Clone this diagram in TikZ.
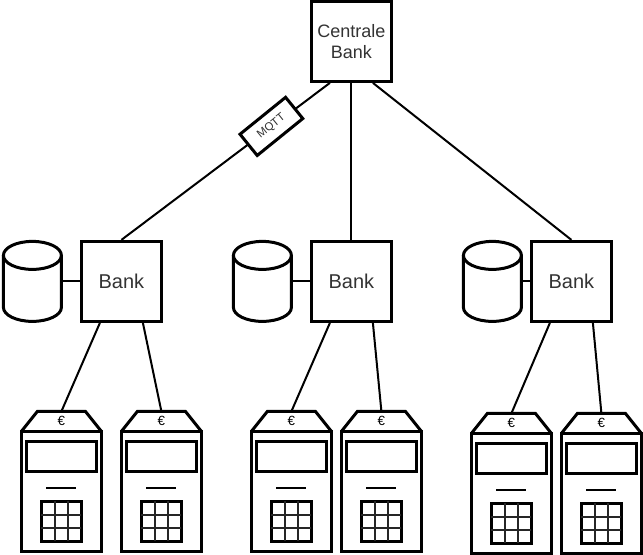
\documentclass[tikz,border=0pt]{standalone}
\usepackage{fontspec}
\setmainfont{Liberation Sans}
\usetikzlibrary{shapes,positioning}
\tikzset{
  bankbox/.style={rectangle,draw,line width=2.25pt,minimum width=60pt,minimum height=60pt,inner sep=0pt,align=center,font=\fontsize{15}{17}\selectfont,text=black!80},
  topbox/.style={bankbox,font=\fontsize{13.5}{16}\selectfont},
  dbase/.style={rectangle,minimum width=43.5pt,minimum height=60pt,inner sep=0pt,outer sep=0pt},
  thickline/.style={line width=2.25pt},
  link/.style={line width=1.5pt},
  roof/.style={rectangle,minimum width=36pt,minimum height=15pt,inner sep=0pt,outer sep=0pt,font=\fontsize{10}{11}\selectfont},
  tbody/.style={rectangle,draw,line width=2.25pt,minimum width=60pt,minimum height=90pt,inner sep=0pt},
  screen/.style={rectangle,draw,line width=2.25pt,minimum width=52.5pt,minimum height=22pt,inner sep=0pt},
  keypad/.style={rectangle,draw,line width=2.25pt,minimum width=30pt,minimum height=30pt,inner sep=0pt,outer sep=0pt},
  tag/.style={rectangle,draw,fill=white,line width=2.25pt,minimum width=44pt,minimum height=20.5pt,inner sep=0pt,rotate=39,font=\fontsize{8.5}{9}\selectfont,text=black!80}
}
% one database: name, x of the middle
\newcommand{\database}[2]{
  \node[dbase] (#1) at (#2,281) {};
  \draw[thickline] (#2,255) ellipse (29 and 14);
  \draw[thickline] (#2-29,255) -- (#2-29,307) arc (180:0:29 and 14) -- (#2+29,255);
}
% one terminal: name, x of the middle, y of the top
\newcommand{\terminal}[3]{
  \node[roof] (#1) at (#2,#3+10) {€};
  \draw[thickline] (#2-40,#3+20) -- (#2-24,#3) -- (#2+24,#3) -- (#2+40,#3+20);
  \node[tbody] (#1b) at (#2,#3+80) {};
  \node[screen] (#1s) at (#2+0.5,#3+45) {};
  \draw[link] (#2-15,#3+77) -- (#2+15,#3+77);
  \node[keypad] (#1k) at (#2,#3+110) {};
  \draw[line width=1.4pt,black!85] (#1k.north west)++(13.3,0) -- ++(0,40) (#1k.north west)++(26.6,0) -- ++(0,40)
    (#1k.north west)++(0,13.3) -- ++(40,0) (#1k.north west)++(0,26.6) -- ++(40,0);
}

\begin{document}
\begin{tikzpicture}[x=0.75pt,y=-0.75pt]
  \useasboundingbox (-0.4,-0.4) rectangle (642.6,554.6);

  \node[topbox] (cb) at (351,41) {Centrale\\Bank};
  \node[bankbox] (b1) at (121,281) {Bank};
  \node[bankbox] (b2) at (351,281) {Bank};
  \node[bankbox] (b3) at (571,281) {Bank};

  \database{d1}{32}
  \database{d2}{262}
  \database{d3}{492}

  \terminal{t1}{61}{411}
  \terminal{t2}{161}{411}
  \terminal{t3}{291}{411}
  \terminal{t4}{381}{411}
  \terminal{t5}{511}{413}
  \terminal{t6}{601}{413}

  \draw[link] (cb.south west)++(20,0) coordinate (cbl) -- (b1.north);
  \draw[link] (cb) -- (b2);
  \draw[link] (cb.south east)++(-20,0) coordinate (cbr) -- (b3.north);
  \node[tag] (mqtt) at (271,126) {MQTT};

  \draw[link] (d1) -- (b1);
  \draw[link] (d2) -- (b2);
  \draw[link] (d3) -- (b3);

  \draw[link] (b1.south west)++(20,0) coordinate (b1l) -- (t1.north);
  \draw[link] (b1.south east)++(-20,0) coordinate (b1r) -- (t2.north);
  \draw[link] (b2.south west)++(20,0) coordinate (b2l) -- (t3.north);
  \draw[link] (b2.south east)++(-20,0) coordinate (b2r) -- (t4.north);
  \draw[link] (b3.south west)++(20,0) coordinate (b3l) -- (t5.north);
  \draw[link] (b3.south east)++(-20,0) coordinate (b3r) -- (t6.north);
\end{tikzpicture}
\end{document}
